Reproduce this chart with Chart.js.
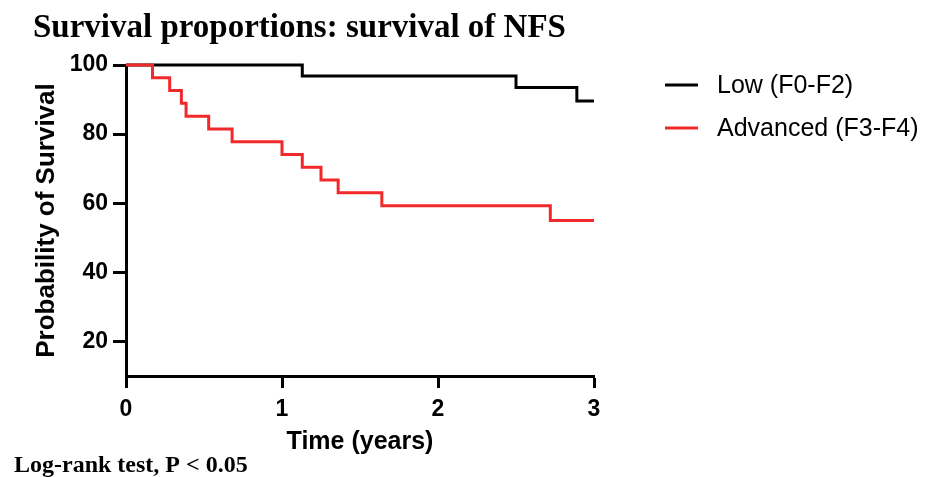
<!DOCTYPE html>
<html>
<head>
<meta charset="utf-8">
<script src="https://cdn.jsdelivr.net/npm/chart.js@4/dist/chart.umd.min.js"></script>
<style>
  html, body { margin: 0; padding: 0; background: #fff; }
  #wrap { position: relative; width: 925px; height: 477px; }
</style>
</head>
<body>
<div id="wrap"><canvas id="km"></canvas></div>
<script>
// Kaplan-Meier steps (time in years, survival in %)
const lowTimes = [0, 1.13, 2.50, 2.89, 3.0];
const lowSurvival = [100, 96.8, 93.5, 89.6, 89.6];
const advTimes = [0, 0.17, 0.28, 0.355, 0.385, 0.53, 0.68, 1.0, 1.13, 1.25, 1.36, 1.64, 2.72, 3.0];
const advSurvival = [100, 96.3, 92.6, 88.9, 85.2, 81.5, 77.8, 74.1, 70.4, 66.7, 63.0, 59.3, 55.0, 55.0];

const seriesNames = ["Low (F0-F2)", "Advanced (F3-F4)"];
const xTicks = [0, 1, 2, 3];
const yTicks = [20, 40, 60, 80, 100];

const chartTitle = "Survival proportions: survival of NFS";
const footNote = "Log-rank test, P < 0.05";
const xTitle = "Time (years)";
const yTitle = "Probability of Survival";

const toPoints = (xs, ys) => xs.map((x, i) => ({ x: x, y: ys[i] }));

// draws title, footnote and the legend on the right
const extras = {
  id: "extras",
  afterDraw(chart) {
    const ctx = chart.ctx;
    ctx.save();
    ctx.fillStyle = "#000";
    ctx.textBaseline = "alphabetic";
    ctx.textAlign = "left";
    ctx.font = "bold 33px 'Liberation Serif'";
    ctx.fillText(chartTitle, 33, 37);
    ctx.font = "bold 24px 'Liberation Serif'";
    ctx.fillText(footNote, 14, 472);

    ctx.font = "25px 'Liberation Sans'";
    ctx.textBaseline = "middle";
    const rows = [85, 128];
    chart.data.datasets.forEach((ds, i) => {
      const y = rows[i];
      ctx.strokeStyle = ds.borderColor;
      ctx.lineWidth = 3;
      ctx.beginPath();
      ctx.moveTo(665, y);
      ctx.lineTo(698, y);
      ctx.stroke();
      ctx.fillText(ds.label, 717, y + 1);
    });
    ctx.restore();
  }
};

const axisFont = { family: "'Liberation Sans'", size: 23, weight: "bold" };

new Chart(document.getElementById("km"), {
  type: "line",
  data: {
    datasets: [
      {
        label: seriesNames[0],
        data: toPoints(lowTimes, lowSurvival),
        borderColor: "#000000",
        borderWidth: 3,
        stepped: "before",
        pointRadius: 0,
        clip: 6,
        order: 1
      },
      {
        label: seriesNames[1],
        data: toPoints(advTimes, advSurvival),
        borderColor: "#f2292b",
        borderWidth: 3,
        stepped: "before",
        pointRadius: 0,
        clip: 6,
        order: 0
      }
    ]
  },
  options: {
    responsive: true,
    maintainAspectRatio: false,
    animation: false,
    layout: { padding: { left: 0, top: 65, right: 331, bottom: 0 } },
    plugins: {
      legend: { display: false },
      tooltip: { enabled: false }
    },
    scales: {
      x: {
        type: "linear",
        min: 0,
        max: 3,
        afterFit: (scale) => { scale.height = 101; },
        afterBuildTicks: (scale) => { scale.ticks = xTicks.map(v => ({ value: v })); },
        border: { color: "#000", width: 3 },
        grid: { drawOnChartArea: false, drawTicks: true, tickLength: 12, tickWidth: 3, tickColor: "#000" },
        ticks: { color: "#000", font: axisFont, padding: 8, maxRotation: 0 },
        title: {
          display: true,
          text: xTitle,
          color: "#000",
          font: { family: "'Liberation Sans'", size: 25, weight: "bold" },
          padding: { top: 0, bottom: 20 }
        }
      },
      y: {
        min: 10,
        max: 100,
        afterFit: (scale) => { scale.width = 126; },
        afterBuildTicks: (scale) => { scale.ticks = yTicks.map(v => ({ value: v })); },
        border: { color: "#000", width: 3 },
        grid: { drawOnChartArea: false, drawTicks: true, tickLength: 13, tickWidth: 3, tickColor: "#000" },
        ticks: { color: "#000", font: axisFont, padding: 5 },
        title: {
          display: true,
          text: yTitle,
          color: "#000",
          font: { family: "'Liberation Sans'", size: 26, weight: "bold" },
          padding: { top: 31, bottom: 0 }
        }
      }
    }
  },
  plugins: [extras]
});
</script>
</body>
</html>
